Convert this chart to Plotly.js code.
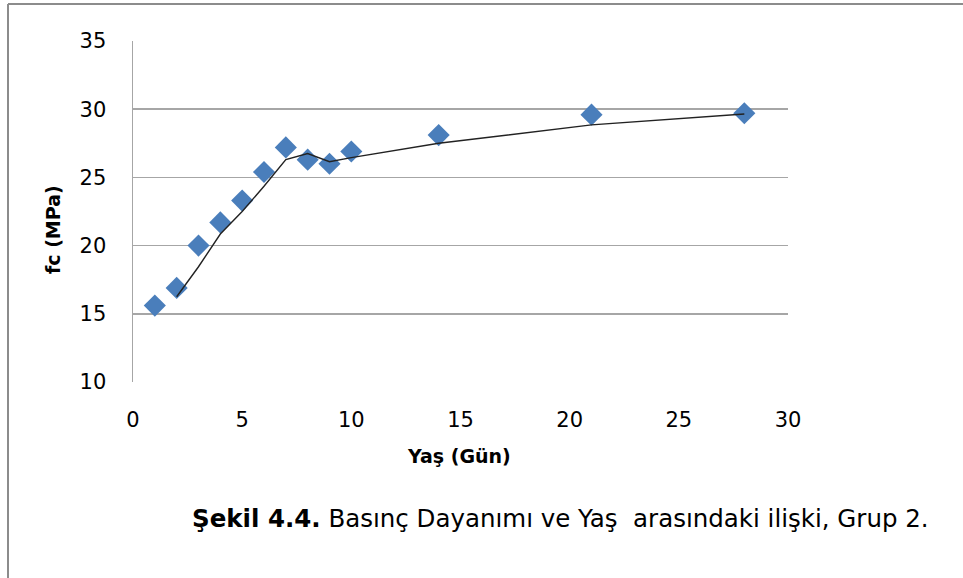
<!DOCTYPE html>
<html>
<head>
<meta charset="utf-8">
<script src="https://cdn.plot.ly/plotly-3.0.1.min.js"></script>
<style>
html,body{margin:0;padding:0;background:#fff;}
#chart{width:963px;height:578px;}
</style>
</head>
<body>
<div id="chart"></div>
<script>
// Data
const ageDays = [1, 2, 3, 4, 5, 6, 7, 8, 9, 10, 14, 21, 28];
const fcMPa   = [15.6, 16.9, 20.0, 21.7, 23.3, 25.4, 27.2, 26.3, 26.0, 26.9, 28.1, 29.6, 29.7];
// 2-period moving-average trendline as drawn in the reference
const trendX  = [2, 3, 4, 5, 6, 7, 8, 9, 10, 14, 21, 28];
const trendY  = [16.25, 18.45, 20.85, 22.5, 24.35, 26.3, 26.75, 26.15, 26.45, 27.5, 28.85, 29.65];
const xTicks  = [0, 5, 10, 15, 20, 25, 30];
const yTicks  = [10, 15, 20, 25, 30, 35];
const xTitle  = "Yaş (Gün)";
const yTitle  = "fc (MPa)";
const captionBold = "Şekil 4.4.";
const captionText = " Basınç Dayanımı ve Yaş  arasındaki ilişki, Grup 2.";

const FONT = "'DejaVu Sans', 'Noto Sans', sans-serif";

// plot area in pixels
const L = 133, R = 788, T = 41, B = 382;
const W = R - L, H = B - T;
const px = x => (x - L) / W;
const py = y => (B - y) / H;

const traces = [
  {
    x: ageDays, y: fcMPa, type: 'scatter', mode: 'markers',
    marker: {symbol: 'diamond', size: 17, color: '#4a7ebb', line: {width: 0}},
    showlegend: false, hoverinfo: 'x+y'
  },
  {
    x: trendX, y: trendY, type: 'scatter', mode: 'lines',
    line: {color: '#222222', width: 1.4},
    showlegend: false, hoverinfo: 'skip'
  }
];

const layout = {
  width: 963, height: 578,
  margin: {l: L, r: 963 - R, t: T, b: 578 - B, pad: 0},
  paper_bgcolor: '#ffffff', plot_bgcolor: '#ffffff',
  font: {family: FONT, size: 21, color: '#000000'},
  showlegend: false,
  xaxis: {
    range: [0, 30], tickmode: 'array', tickvals: xTicks, ticktext: xTicks.map(String),
    showgrid: false, zeroline: false, showline: false,
    ticks: '', ticklabelstandoff: 23,
    tickfont: {family: FONT, size: 21, color: '#000'}
  },
  yaxis: {
    range: [10, 35], tickmode: 'array', tickvals: yTicks, ticktext: yTicks.map(String),
    showgrid: true, gridcolor: '#a6a6a6', gridwidth: 1.5, zeroline: false,
    showline: true, linecolor: '#a6a6a6', linewidth: 1.5,
    ticks: '', ticklabelstandoff: 21,
    tickfont: {family: FONT, size: 21, color: '#000'}
  },
  shapes: [
    // outer frame (top and left edges)
    {type: 'line', xref: 'paper', yref: 'paper', x0: px(8), x1: px(963), y0: py(4), y1: py(4),
     line: {color: '#8c8c8c', width: 2}},
    {type: 'line', xref: 'paper', yref: 'paper', x0: px(8), x1: px(8), y0: py(4), y1: py(578),
     line: {color: '#8c8c8c', width: 2}}
  ],
  annotations: [
    {text: '<b>' + xTitle + '</b>', xref: 'paper', yref: 'paper', x: px(459), y: py(456),
     xanchor: 'center', yanchor: 'middle', showarrow: false, font: {family: FONT, size: 19}},
    {text: '<b>' + yTitle + '</b>', xref: 'paper', yref: 'paper', x: px(53), y: py(230),
     xanchor: 'center', yanchor: 'middle', textangle: -90, showarrow: false, font: {family: FONT, size: 19}},
    {text: '<b>' + captionBold + '</b>' + captionText, xref: 'paper', yref: 'paper', x: px(190), y: py(518),
     xanchor: 'left', yanchor: 'middle', showarrow: false, font: {family: FONT, size: 24.5}}
  ]
};

Plotly.newPlot('chart', traces, layout, {displayModeBar: false, staticPlot: true});
</script>
</body>
</html>
